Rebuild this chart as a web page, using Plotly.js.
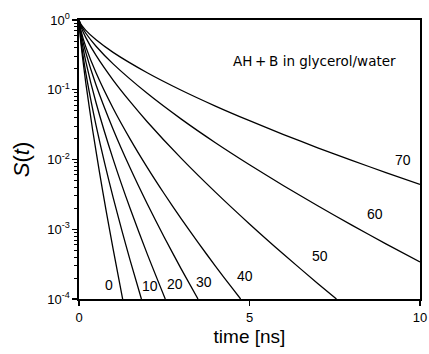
<!DOCTYPE html>
<html>
<head>
<meta charset="utf-8">
<script src="https://cdn.plot.ly/plotly-3.0.1.min.js"></script>
<style>html,body{margin:0;padding:0;background:#fff;}#chart{width:429px;height:354px;}</style>
</head>
<body>
<div id="chart"></div>
<script>
// Series labels (percent glycerol)
const seriesLabels = ["0", "10", "20", "30", "40", "50", "60", "70"];

// time [ns] and log10 S(t) for each curve
const t0  = [0, 0.05, 0.1, 0.2, 0.4, 0.6, 0.8, 1.0, 1.28];
const logS0  = [0, -0.299, -0.520, -0.906, -1.577, -2.182, -2.747, -3.283, -4];
const t10 = [0, 0.05, 0.1, 0.25, 0.5, 0.75, 1, 1.25, 1.5, 1.83];
const logS10 = [0, -0.269, -0.452, -0.899, -1.512, -2.049, -2.542, -3.005, -3.446, -4];
const t20 = [0, 0.05, 0.2, 0.5, 1, 1.5, 2, 2.53];
const logS20 = [0, -0.211, -0.596, -1.186, -1.994, -2.703, -3.353, -4];
const t30 = [0, 0.05, 0.2, 0.5, 1, 1.5, 2, 2.5, 3, 3.49];
const logS30 = [0, -0.166, -0.468, -0.932, -1.566, -2.123, -2.635, -3.115, -3.571, -4];
const t40 = [0, 0.05, 0.2, 0.5, 1, 1.5, 2, 2.5, 3, 3.5, 4, 4.5, 4.74];
const logS40 = [0, -0.138, -0.385, -0.757, -1.265, -1.707, -2.112, -2.491, -2.851, -3.196, -3.528, -3.849, -4];
const t50 = [0, 0.05, 0.2, 0.5, 1, 1.5, 2, 3, 4, 5, 6, 7, 7.55];
const logS50 = [0, -0.088, -0.253, -0.508, -0.861, -1.171, -1.458, -1.984, -2.468, -2.924, -3.359, -3.777, -4];
const t60 = [0, 0.05, 0.2, 0.5, 1, 2, 3, 4, 5, 6, 7, 8, 9, 10];
const logS60 = [0, -0.068, -0.190, -0.376, -0.629, -1.051, -1.421, -1.759, -2.075, -2.376, -2.664, -2.941, -3.210, -3.470];
const t70 = [0, 0.05, 0.2, 0.5, 1, 2, 3, 4, 5, 6, 7, 8, 9, 10];
const logS70 = [0, -0.056, -0.149, -0.284, -0.464, -0.756, -1.007, -1.234, -1.444, -1.643, -1.832, -2.013, -2.187, -2.356];

// Label positions (time, log10 S)
const labelT = [0.89, 2.07, 2.82, 3.68, 4.88, 7.06, 8.69, 9.49];
const labelLogS = [-3.80, -3.82, -3.785, -3.75, -3.67, -3.38, -2.786, -2.007];

// Axis tick labels
const xTickVals = [0, 5, 10];
const xTickText = ["0", "5", "10"];
const yTickVals = [1, 0.1, 0.01, 0.001, 0.0001];
const yTickText = ["10<sup>0</sup>", "10<sup>-1</sup>", "10<sup>-2</sup>", "10<sup>-3</sup>", "10<sup>-4</sup>"];

const tSets = [t0, t10, t20, t30, t40, t50, t60, t70];
const lSets = [logS0, logS10, logS20, logS30, logS40, logS50, logS60, logS70];

// minor tick positions (2..9 within each decade)
const yMinorVals = [];
yTickVals.slice(1).forEach(d => { for (let k = 2; k <= 9; k++) yMinorVals.push(d * k); });

const traces = tSets.map((t, i) => ({
  x: t,
  y: lSets[i].map(v => Math.pow(10, v)),
  mode: "lines",
  type: "scatter",
  name: seriesLabels[i],
  line: {color: "#000", width: 1.3, shape: "spline", smoothing: 0.6},
  showlegend: false,
  hoverinfo: "skip"
}));

const annotations = seriesLabels.map((s, i) => ({
  x: labelT[i], y: labelLogS[i], xref: "x", yref: "y",
  text: s, showarrow: false,
  font: {family: "Liberation Sans, Arial, sans-serif", size: 14, color: "#000"}
}));
annotations.push({
  xref: "x", yref: "paper", x: 6.9, y: 0.89,
  text: "AH\u2009+\u2009B in glycerol/water", showarrow: false,
  font: {family: "DejaVu Sans, sans-serif", size: 13.5, color: "#000"}
});

const layout = {
  width: 429, height: 354,
  margin: {l: 79, r: 9, t: 20, b: 55},
  paper_bgcolor: "#fff", plot_bgcolor: "#fff",
  font: {family: "Liberation Sans, Arial, sans-serif", color: "#000"},
  xaxis: {
    range: [0, 10], tickmode: "array", tickvals: xTickVals, ticktext: xTickText,
    ticks: "outside", ticklen: 5, tickwidth: 1.3, tickcolor: "#000",
    showline: true, linecolor: "#000", linewidth: 2, mirror: true,
    showgrid: false, zeroline: false,
    tickfont: {size: 13},
    title: {text: "time [ns]", font: {size: 19}, standoff: 6}
  },
  yaxis: {
    type: "log", range: [-4, 0], tickmode: "array", tickvals: yTickVals, ticktext: yTickText,
    ticks: "outside", ticklen: 5, tickwidth: 1.3, tickcolor: "#000",
    minor: {tickmode: "array", tickvals: yMinorVals, ticks: "outside", ticklen: 3, tickcolor: "#000", tickwidth: 1, showgrid: false},
    showline: true, linecolor: "#000", linewidth: 1.6, mirror: true,
    showgrid: false, zeroline: false,
    tickfont: {size: 13},
    title: {text: "<i>S</i>(<i>t</i>)", font: {size: 22}, standoff: 11}
  },
  annotations: annotations
};

Plotly.newPlot("chart", traces, layout, {displayModeBar: false, staticPlot: true});
</script>
</body>
</html>
